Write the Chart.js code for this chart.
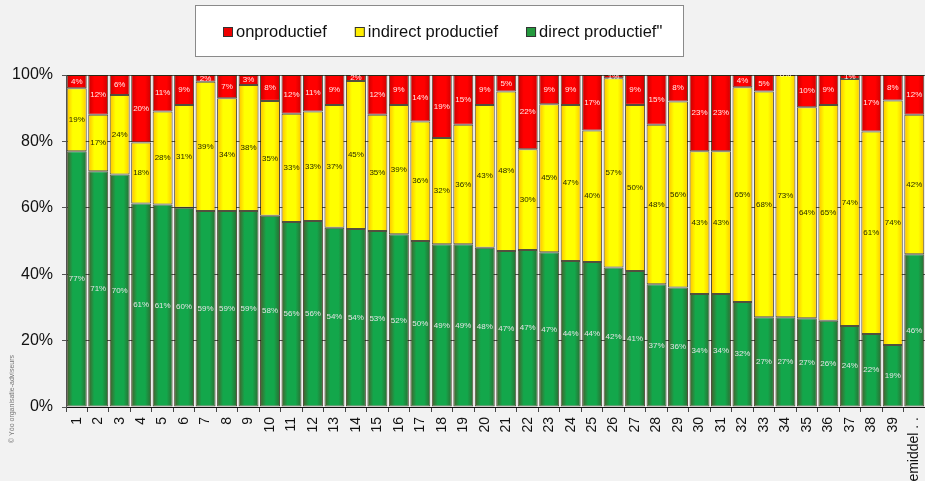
<!DOCTYPE html>
<html>
<head>
<meta charset="utf-8">
<script src="https://cdn.jsdelivr.net/npm/chart.js@4/dist/chart.umd.min.js"></script>
<style>
  html, body { margin: 0; padding: 0; background: #f2f2f2; }
  #wrap { width: 925px; height: 481px; }
</style>
</head>
<body>
<div id="wrap"><canvas id="chart" width="925" height="481"></canvas></div>
<script>
  // categories and the three stacked series (percent of total)
  const categories = ["1", "2", "3", "4", "5", "6", "7", "8", "9", "10",
    "11", "12", "13", "14", "15", "16", "17", "18", "19", "20",
    "21", "22", "23", "24", "25", "26", "27", "28", "29", "30",
    "31", "32", "33", "34", "35", "36", "37", "38", "39", "gemiddel . ."];

  const direct = [77, 71, 70, 61.3, 61, 60, 59, 59, 59, 57.6,
    55.7, 56, 54, 53.6, 53, 52, 50, 49, 49, 48,
    47, 47.3, 46.6, 44, 43.7, 42, 41, 37, 36, 34,
    34, 31.6, 27, 27, 26.7, 26, 24.4, 22, 18.7, 46];

  const indirect = [19, 17, 24, 18.4, 28, 31, 39, 34, 38, 34.6,
    32.6, 33, 37, 44.6, 35, 39, 36, 32, 36, 43,
    48, 30.3, 44.6, 47, 39.6, 57, 50, 48, 56, 43,
    43, 64.7, 68, 73, 63.6, 65, 74.4, 61, 73.6, 42];

  const onproductief = [4, 12, 6, 20.3, 11, 9, 2, 7, 3, 7.8,
    11.7, 11, 9, 1.8, 12, 9, 14, 19, 15, 9,
    5, 22.4, 8.8, 9, 16.7, 1, 9, 15, 8, 23,
    23, 3.7, 5, 0, 9.7, 9, 1.2, 17, 7.7, 12];

  const yTickLabels = ["0%", "20%", "40%", "60%", "80%", "100%"];

  const seriesStyle = {
    direct: { edgeL: "#4a5a2b", mid: "#13a74b", edgeR: "#2d6a31", swatch: "#249a3e", text: "#e4e4e4" },
    indirect: { edgeL: "#ffbf00", mid: "#ffff00", edgeR: "#ffc800", swatch: "#ffee00", text: "#2a2a00" },
    onproductief: { edgeL: "#c40000", mid: "#ff0000", edgeR: "#cc0000", swatch: "#ee0000", text: "#ffe8e8" },
  };

  const BAR_PCT = 0.93;

  function barGradient(key) {
    const s = seriesStyle[key];
    return (context) => {
      const chart = context.chart;
      const xScale = chart.scales.x;
      if (!chart.chartArea || !xScale) return s.mid;
      const cx = xScale.getPixelForValue(context.dataIndex);
      const w = (xScale.getPixelForValue(1) - xScale.getPixelForValue(0)) * BAR_PCT;
      const g = chart.ctx.createLinearGradient(cx - w / 2, 0, cx + w / 2, 0);
      g.addColorStop(0, s.edgeL);
      g.addColorStop(0.3, s.mid);
      g.addColorStop(0.7, s.mid);
      g.addColorStop(1, s.edgeR);
      return g;
    };
  }

  const segmentLabels = {
    id: "segmentLabels",
    afterDatasetsDraw(chart) {
      const ctx = chart.ctx;
      const area = chart.chartArea;
      ctx.save();
      ctx.beginPath();
      ctx.rect(area.left, area.top, area.right - area.left, area.bottom - area.top);
      ctx.clip();
      ctx.font = "8px 'Liberation Sans', Arial, sans-serif";
      ctx.textAlign = "center";
      ctx.textBaseline = "middle";
      chart.data.datasets.forEach((ds, di) => {
        const meta = chart.getDatasetMeta(di);
        ctx.fillStyle = seriesStyle[ds.key].text;
        meta.data.forEach((bar, i) => {
          const v = ds.data[i];
          const y = (bar.y + bar.base) / 2;
          ctx.fillText(Math.round(v) + "%", bar.x, y);
        });
      });
      ctx.restore();
    },
  };

  const legendBox = {
    id: "legendBox",
    afterDraw(chart) {
      const ctx = chart.ctx;
      ctx.save();
      ctx.fillStyle = "#ffffff";
      ctx.fillRect(195, 5, 489, 52);
      ctx.strokeStyle = "#8a8a8a";
      ctx.lineWidth = 1;
      ctx.strokeRect(195.5, 5.5, 488, 51);
      ctx.font = "16.5px 'Liberation Sans', Arial, sans-serif";
      ctx.textBaseline = "alphabetic";
      ctx.textAlign = "left";
      let x = 223;
      const items = chart.data.datasets.slice().reverse();
      items.forEach((ds) => {
        ctx.fillStyle = seriesStyle[ds.key].swatch;
        ctx.fillRect(x, 27, 10, 10);
        ctx.strokeStyle = "#333";
        ctx.strokeRect(x + 0.5, 27.5, 9, 9);
        x += 13;
        ctx.fillStyle = "#111";
        ctx.fillText(ds.label, x, 37);
        x += ctx.measureText(ds.label).width + 28;
      });
      ctx.restore();
    },
  };

  const copyright = {
    id: "copyright",
    afterDraw(chart) {
      const ctx = chart.ctx;
      ctx.save();
      ctx.translate(12, 443);
      ctx.rotate(-Math.PI / 2);
      ctx.font = "7px 'Liberation Sans', Arial, sans-serif";
      ctx.fillStyle = "#777";
      ctx.textAlign = "left";
      ctx.textBaseline = "middle";
      ctx.fillText("\u00a9 Y\u00f3o organisatie-adviseurs", 0, 0);
      ctx.restore();
    },
  };

  function dataset(label, key, values) {
    return {
      label,
      key,
      data: values,
      backgroundColor: barGradient(key),
      borderColor: "rgba(30,25,0,0.75)",
      borderWidth: 1,
      borderSkipped: false,
      barPercentage: BAR_PCT,
      categoryPercentage: 1,
    };
  }

  new Chart(document.getElementById("chart"), {
    type: "bar",
    data: {
      labels: categories,
      datasets: [
        dataset("direct productief\"", "direct", direct),
        dataset("indirect productief", "indirect", indirect),
        dataset("onproductief", "onproductief", onproductief),
      ],
    },
    options: {
      responsive: false,
      devicePixelRatio: 1,
      animation: false,
      layout: { padding: { top: 75, left: 0, right: 0, bottom: 0 } },
      plugins: { legend: { display: false }, tooltip: { enabled: false } },
      scales: {
        x: {
          stacked: true,
          offset: true,
          grid: { offset: true, drawOnChartArea: false, color: "#444", tickLength: 5 },
          border: { color: "#111" },
          ticks: {
            autoSkip: false,
            maxRotation: 90,
            minRotation: 90,
            padding: 5,
            color: "#111",
            font: { family: "'Liberation Sans', Arial, sans-serif", size: 14 },
          },
          afterFit(scale) {
            scale.height = 74;
            scale.paddingLeft = 0;
            scale.paddingRight = 0;
          },
        },
        y: {
          stacked: true,
          min: 0,
          max: 100,
          grid: { color: "#555", tickLength: 4 },
          border: { color: "#555" },
          ticks: {
            stepSize: 20,
            padding: 9,
            color: "#111",
            font: { family: "'Liberation Sans', Arial, sans-serif", size: 16 },
            callback: (v) => yTickLabels[v / 20],
          },
          afterFit(scale) { scale.width = 66; },
        },
      },
    },
    plugins: [segmentLabels, legendBox, copyright],
  });
</script>
</body>
</html>
